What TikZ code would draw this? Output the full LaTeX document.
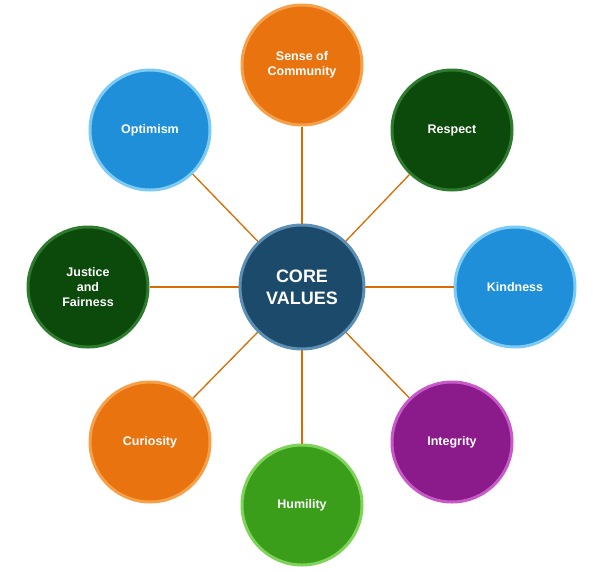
\documentclass[tikz,border=0pt]{standalone}
\usepackage{fontspec}
\setmainfont{Liberation Sans}
\begin{document}
\begin{tikzpicture}[x=1pt,y=-1pt,
  val/.style={circle,minimum size=120pt,inner sep=0pt,align=center,text=white,
     font=\fontsize{12.5}{15}\selectfont\bfseries,line width=3pt},
  link/.style={draw=orange!85!black,line width=1.3pt}]
\useasboundingbox[fill=white] (0,0) rectangle (604,573);
\definecolor{cor}{HTML}{E8730F}\definecolor{corR}{HTML}{F7A04A}
\definecolor{dgr}{HTML}{0B4A0B}\definecolor{dgrR}{HTML}{2E7A2E}
\definecolor{blu}{HTML}{1E8FD8}\definecolor{bluR}{HTML}{7CCBF5}
\definecolor{pur}{HTML}{8B1A8B}\definecolor{purR}{HTML}{C65AC6}
\definecolor{grn}{HTML}{3A9E1A}\definecolor{grnR}{HTML}{7FD35A}
\definecolor{nav}{HTML}{1B4A6B}\definecolor{navR}{HTML}{5C8FB3}
\coordinate (c0) at (302,287);
\node[val,fill=cor,draw=corR] (a) at (302,65) {Sense of\\Community};
\node[val,fill=dgr,draw=dgrR] (b) at (452,130) {Respect};
\node[val,fill=blu,draw=bluR] (c) at (515,287) {Kindness};
\node[val,fill=pur,draw=purR] (d) at (452,442) {Integrity};
\node[val,fill=grn,draw=grnR] (e) at (302,505) {Humility};
\node[val,fill=cor,draw=corR] (f) at (150,442) {Curiosity};
\node[val,fill=dgr,draw=dgrR] (g) at (88,287) {Justice\\and\\Fairness};
\node[val,fill=blu,draw=bluR] (h) at (150,130) {Optimism};
\foreach \n in {a,b,c,d,e,f,g,h} \draw[link] (c0) -- (\n);
\node[val,minimum size=124pt,fill=nav,draw=navR,font=\fontsize{18}{22}\selectfont\bfseries] (m) at (c0) {CORE\\VALUES};
\end{tikzpicture}
\end{document}
